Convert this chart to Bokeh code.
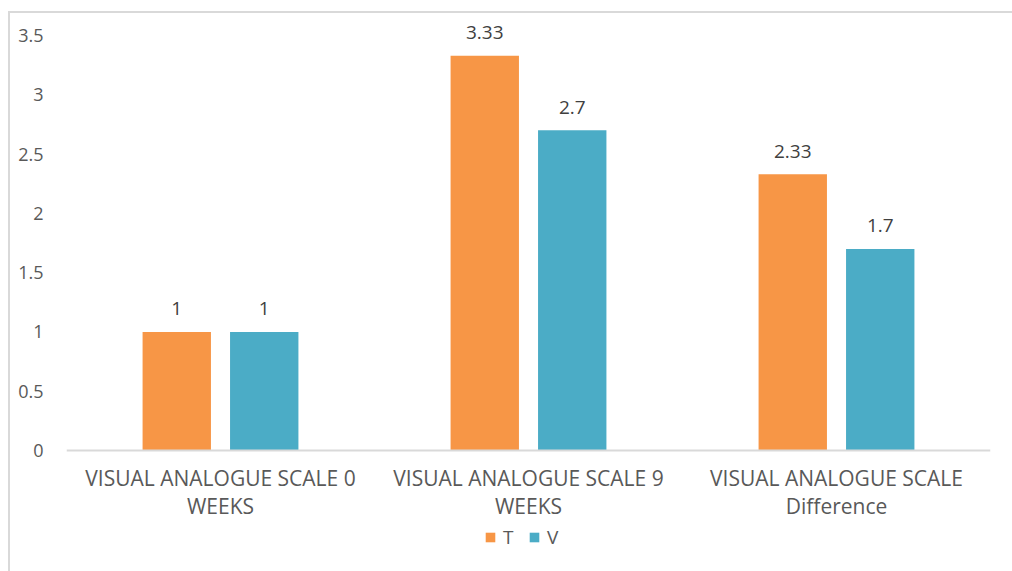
from bokeh.plotting import figure
from bokeh.models import (ColumnDataSource, FixedTicker, Range1d, LabelSet,
                          Legend, LegendItem, Span)
from bokeh.core.properties import value
from bokeh.embed import file_html
from bokeh.resources import INLINE

# --- data -------------------------------------------------------------
categories = ["VISUAL ANALOGUE SCALE 0\nWEEKS",
              "VISUAL ANALOGUE SCALE 9\nWEEKS",
              "VISUAL ANALOGUE SCALE\nDifference"]
t_values = [1, 3.33, 2.33]
v_values = [1, 2.7, 1.7]
t_labels = ["1", "3.33", "2.33"]
v_labels = ["1", "2.7", "1.7"]
y_ticks = [0, 0.5, 1, 1.5, 2, 2.5, 3, 3.5]
y_tick_labels = ["0", "0.5", "1", "1.5", "2", "2.5", "3", "3.5"]

T_COLOR = "#F79646"
V_COLOR = "#4BACC6"
FONT = "Open Sans"

# layout in pixels: value axis spans 426 px above the baseline, 121 px below
PX_PER_UNIT = 415 / 3.5
Y_TOP = 426 / PX_PER_UNIT
Y_BOTTOM = -121 / PX_PER_UNIT

centers = [i + 0.5 for i in range(len(categories))]
offset = 0.142
bar_w = 0.222

t_src = ColumnDataSource(dict(x=[c - offset for c in centers], top=t_values, label=t_labels))
v_src = ColumnDataSource(dict(x=[c + offset for c in centers], top=v_values, label=v_labels))

p = figure(frame_width=924, frame_height=547, output_backend="svg", toolbar_location=None,
           x_range=Range1d(0, len(categories)), y_range=Range1d(Y_BOTTOM, Y_TOP),
           min_border_left=56, min_border_right=22, min_border_top=11,
           min_border_bottom=0)
p.styles = {"margin-left": "8px", "margin-top": "11px",
            "border-left": "2px solid #d9d9d9", "border-top": "2px solid #d9d9d9"}

p.outline_line_color = None
p.xgrid.visible = False
p.ygrid.visible = False
p.xaxis.visible = False

# category baseline
p.add_layout(Span(location=0, dimension="width", line_color="#d9d9d9", line_width=2))

r_t = p.vbar(x="x", top="top", width=bar_w, source=t_src, fill_color=T_COLOR, line_color=None)
r_v = p.vbar(x="x", top="top", width=bar_w, source=v_src, fill_color=V_COLOR, line_color=None)

for src in (t_src, v_src):
    p.add_layout(LabelSet(x="x", y="top", text="label", source=src, y_offset=23,
                          text_align="center", text_baseline="middle",
                          text_font=value(FONT), text_font_size=value("19px"),
                          text_color="#404040"))

# category names under each group
cat_src = ColumnDataSource(dict(x=centers, y=[-13 / PX_PER_UNIT] * len(centers), text=categories))
p.text(x="x", y="y", text="text", source=cat_src, text_align="center", text_baseline="top",
       text_font=value(FONT), text_font_size=value("21px"), text_line_height=1.0,
       text_color="#595959")

# y axis: labels only
p.yaxis.ticker = FixedTicker(ticks=y_ticks)
p.yaxis.major_label_overrides = {t: s for t, s in zip(y_ticks, y_tick_labels)}
p.yaxis.axis_line_color = None
p.yaxis.major_tick_line_color = None
p.yaxis.minor_tick_line_color = None
p.yaxis.major_label_standoff = 17
p.yaxis.major_label_text_font = FONT
p.yaxis.major_label_text_font_size = "18px"
p.yaxis.major_label_text_color = "#595959"

legend = Legend(items=[LegendItem(label="T", renderers=[r_t]),
                       LegendItem(label="V", renderers=[r_v])],
                location=(418, 21), orientation="horizontal",
                glyph_width=12, glyph_height=12, label_standoff=7, spacing=5,
                padding=0, margin=0, label_height=20,
                label_text_font=FONT, label_text_font_size="19px",
                label_text_color="#595959",
                border_line_alpha=0, background_fill_alpha=0)
p.add_layout(legend, "center")

open("out.html", "w").write(file_html(p, INLINE))
